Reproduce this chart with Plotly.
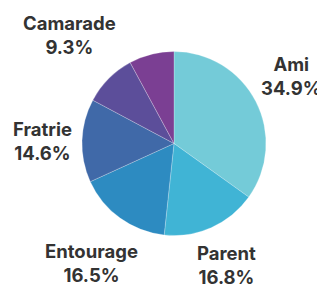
import plotly.graph_objects as go

labels = ["Ami", "Parent", "Entourage", "Fratrie", "Camarade", ""]
values = [34.9, 16.8, 16.5, 14.6, 9.3, 7.9]
colors = ["#74cbd8", "#40b4d5", "#2d8bc1", "#4069a8", "#5c4e9a", "#7b3f93"]

# label anchor positions (paper coords) for the outside labels
label_pos = {
    "Ami": (0.872, 0.762),
    "Parent": (0.671, 0.103),
    "Entourage": (0.258, 0.11),
    "Fratrie": (0.105, 0.537),
    "Camarade": (0.188, 0.906),
}

fig = go.Figure(go.Pie(
    labels=labels,
    values=values,
    sort=False,
    direction="clockwise",
    rotation=0,
    marker=dict(colors=colors, line=dict(color="rgba(255,255,255,0.3)", width=0.8)),
    textinfo="none",
    hoverinfo="label+value",
    domain=dict(x=[0.2277, 0.7938], y=[0.2073, 0.8484]),
    showlegend=False,
))

for lab, val in zip(labels, values):
    if not lab:
        continue
    x, y = label_pos[lab]
    fig.add_annotation(
        x=x, y=y, xref="paper", yref="paper",
        xanchor="center", yanchor="middle",
        text=f"{lab}<br>{val:.1f}%",
        showarrow=False,
        font=dict(family="Inter", size=18.5, color="#333333", weight="bold"),
        align="center",
    )

fig.update_layout(
    width=325, height=287,
    margin=dict(l=0, r=0, t=0, b=0),
    paper_bgcolor="white",
    plot_bgcolor="white",
)

fig.write_html("out.html")
